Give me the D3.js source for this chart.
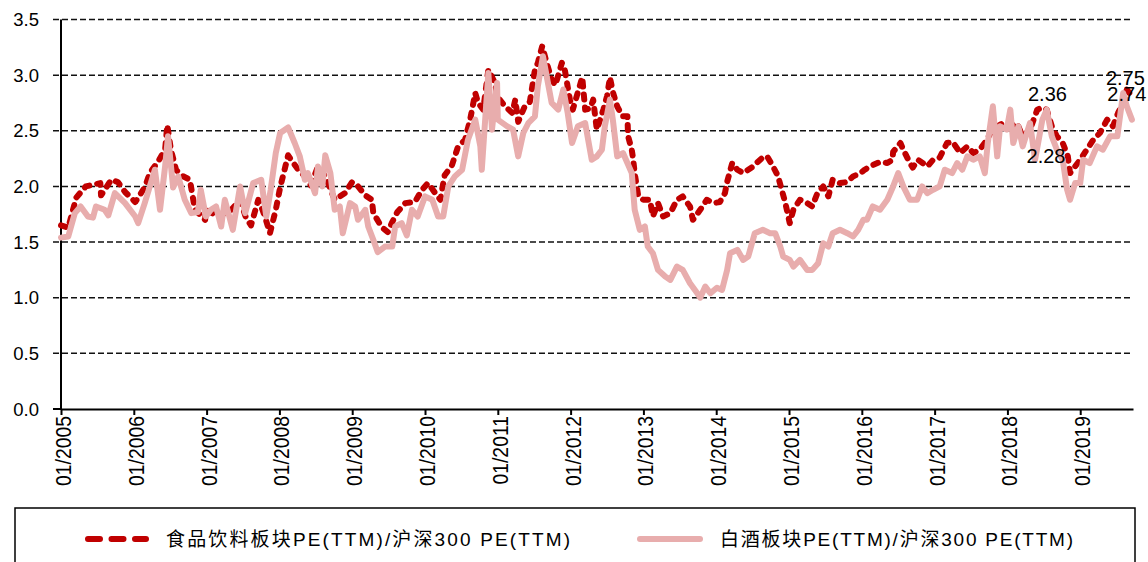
<!DOCTYPE html>
<html>
<head>
<meta charset="utf-8">
<script src="https://cdn.jsdelivr.net/npm/d3@7"></script>
<style>
  body { margin: 0; background: #fff; }
  text { font-family: "Liberation Sans", Arial, "Noto Sans CJK SC", sans-serif; fill: #000; }
</style>
</head>
<body>
<div id="chart"></div>
<script>
var width = 1148, height = 562;

// x values are decimal years
var foodT = [2005.00,2005.10,2005.21,2005.34,2005.54,2005.55,2005.69,2005.78,2005.88,2006.02,2006.15,2006.22,2006.33,2006.43,2006.46,2006.51,2006.58,2006.65,2006.77,2006.84,2006.98,2006.99,2007.16,2007.34,2007.46,2007.54,2007.61,2007.71,2007.75,2007.80,2007.87,2007.95,2008.01,2008.12,2008.16,2008.26,2008.35,2008.43,2008.53,2008.63,2008.76,2008.90,2009.00,2009.08,2009.18,2009.27,2009.29,2009.41,2009.49,2009.55,2009.62,2009.73,2009.86,2009.96,2010.04,2010.14,2010.21,2010.27,2010.37,2010.45,2010.55,2010.62,2010.69,2010.73,2010.80,2010.87,2010.96,2011.00,2011.10,2011.20,2011.24,2011.28,2011.37,2011.44,2011.51,2011.55,2011.61,2011.68,2011.74,2011.79,2011.88,2011.92,2011.99,2012.03,2012.16,2012.20,2012.27,2012.31,2012.36,2012.45,2012.50,2012.54,2012.58,2012.64,2012.71,2012.78,2012.79,2012.84,2012.86,2012.88,2012.93,2013.00,2013.09,2013.13,2013.20,2013.27,2013.37,2013.46,2013.54,2013.64,2013.68,2013.78,2013.87,2013.96,2014.05,2014.12,2014.15,2014.22,2014.29,2014.37,2014.44,2014.51,2014.57,2014.64,2014.70,2014.78,2014.85,2014.90,2014.95,2015.01,2015.06,2015.15,2015.25,2015.32,2015.39,2015.47,2015.54,2015.60,2015.70,2015.80,2015.88,2015.98,2016.04,2016.11,2016.25,2016.35,2016.42,2016.43,2016.53,2016.57,2016.66,2016.70,2016.77,2016.90,2016.98,2017.07,2017.17,2017.25,2017.35,2017.45,2017.53,2017.62,2017.72,2017.79,2017.86,2017.94,2018.04,2018.13,2018.21,2018.31,2018.41,2018.48,2018.54,2018.61,2018.68,2018.76,2018.83,2018.86,2018.93,2019.00,2019.09,2019.18,2019.27,2019.37,2019.45,2019.52,2019.59,2019.64,2019.71];
var foodV = [1.65,1.63,1.90,2.00,2.03,1.92,2.06,2.04,1.95,1.86,1.99,2.12,2.22,2.33,2.55,2.33,2.15,2.10,2.06,1.79,1.70,1.79,1.73,1.79,1.88,1.72,1.65,1.88,1.82,1.73,1.58,1.79,1.99,2.28,2.24,2.15,2.09,2.01,2.18,2.09,1.88,1.94,2.04,2.00,1.92,1.88,1.76,1.63,1.59,1.68,1.77,1.85,1.86,1.97,2.03,1.94,1.88,2.10,2.19,2.35,2.42,2.60,2.84,2.75,2.69,3.05,2.93,2.80,2.72,2.66,2.78,2.58,2.72,2.76,3.05,3.11,3.26,3.09,2.96,2.91,3.11,3.05,2.78,2.69,2.98,2.69,2.70,2.78,2.51,2.69,2.81,2.98,2.85,2.72,2.63,2.63,2.45,2.33,2.24,2.12,1.91,1.88,1.88,1.73,1.85,1.73,1.76,1.88,1.91,1.82,1.70,1.79,1.88,1.85,1.86,1.94,2.04,2.21,2.15,2.12,2.15,2.18,2.22,2.26,2.27,2.18,2.09,1.97,1.85,1.67,1.79,1.88,1.85,1.82,1.94,2.00,1.91,2.06,2.03,2.04,2.09,2.12,2.15,2.18,2.22,2.21,2.24,2.31,2.39,2.33,2.21,2.17,2.24,2.18,2.24,2.26,2.39,2.40,2.30,2.36,2.30,2.33,2.42,2.51,2.54,2.57,2.54,2.57,2.45,2.51,2.69,2.71,2.69,2.54,2.45,2.39,2.27,2.12,2.18,2.24,2.33,2.42,2.48,2.60,2.54,2.66,2.75,2.87,2.81];

var liquorT = [2005.00,2005.10,2005.19,2005.27,2005.37,2005.44,2005.48,2005.60,2005.65,2005.74,2005.88,2006.02,2006.06,2006.15,2006.29,2006.36,2006.43,2006.47,2006.54,2006.61,2006.70,2006.79,2006.88,2006.92,2006.99,2007.06,2007.13,2007.20,2007.25,2007.36,2007.46,2007.53,2007.64,2007.75,2007.82,2007.88,2007.95,2008.01,2008.12,2008.21,2008.28,2008.35,2008.39,2008.49,2008.53,2008.59,2008.63,2008.70,2008.76,2008.83,2008.87,2008.97,2009.04,2009.08,2009.18,2009.22,2009.29,2009.35,2009.45,2009.55,2009.59,2009.68,2009.75,2009.82,2009.90,2010.00,2010.10,2010.18,2010.25,2010.32,2010.41,2010.51,2010.59,2010.69,2010.76,2010.78,2010.87,2010.92,2010.99,2011.00,2011.13,2011.21,2011.28,2011.35,2011.42,2011.51,2011.55,2011.62,2011.68,2011.74,2011.83,2011.90,2011.96,2012.02,2012.10,2012.20,2012.29,2012.36,2012.43,2012.47,2012.54,2012.58,2012.64,2012.72,2012.78,2012.84,2012.88,2012.95,2013.02,2013.06,2013.13,2013.20,2013.30,2013.37,2013.46,2013.54,2013.64,2013.74,2013.78,2013.85,2013.92,2014.01,2014.08,2014.15,2014.19,2014.29,2014.37,2014.44,2014.53,2014.64,2014.74,2014.81,2014.88,2014.92,2015.01,2015.06,2015.15,2015.25,2015.32,2015.40,2015.47,2015.54,2015.60,2015.70,2015.80,2015.88,2015.95,2016.02,2016.07,2016.15,2016.25,2016.35,2016.43,2016.50,2016.57,2016.66,2016.76,2016.83,2016.90,2016.98,2017.07,2017.14,2017.24,2017.31,2017.38,2017.45,2017.53,2017.62,2017.69,2017.73,2017.80,2017.86,2017.90,2017.99,2018.04,2018.08,2018.15,2018.21,2018.31,2018.38,2018.48,2018.54,2018.61,2018.68,2018.76,2018.82,2018.86,2018.93,2019.00,2019.04,2019.13,2019.23,2019.31,2019.41,2019.51,2019.59,2019.64,2019.71];
var liquorV = [1.54,1.55,1.76,1.82,1.73,1.72,1.82,1.79,1.74,1.94,1.85,1.73,1.67,1.85,2.15,1.79,2.18,2.45,1.99,2.09,1.88,1.76,1.77,1.97,1.73,1.79,1.82,1.64,1.88,1.61,2.00,1.76,2.03,2.06,1.73,1.97,2.30,2.48,2.53,2.39,2.27,2.06,2.12,1.94,2.18,2.00,2.28,2.12,1.79,1.82,1.58,1.85,1.82,1.70,1.79,1.64,1.52,1.41,1.46,1.46,1.64,1.67,1.56,1.79,1.73,1.91,1.88,1.73,1.73,2.00,2.09,2.15,2.42,2.60,2.36,2.15,3.02,2.51,2.93,2.60,2.54,2.51,2.27,2.48,2.57,2.63,2.90,3.17,2.96,2.75,2.69,2.87,2.66,2.39,2.54,2.57,2.24,2.27,2.33,2.54,2.78,2.60,2.27,2.30,2.21,2.12,1.79,1.61,1.64,1.46,1.40,1.25,1.19,1.16,1.28,1.25,1.13,1.04,1.00,1.10,1.04,1.09,1.07,1.25,1.40,1.43,1.34,1.37,1.58,1.61,1.58,1.58,1.46,1.37,1.34,1.28,1.34,1.25,1.25,1.31,1.49,1.46,1.58,1.61,1.58,1.55,1.61,1.70,1.70,1.82,1.79,1.88,2.00,2.12,2.00,1.88,1.88,2.00,1.94,1.97,2.00,2.15,2.12,2.21,2.15,2.27,2.24,2.27,2.12,2.39,2.72,2.27,2.54,2.51,2.69,2.39,2.54,2.36,2.57,2.24,2.60,2.69,2.45,2.33,2.24,1.97,1.88,2.03,2.03,2.24,2.21,2.36,2.33,2.45,2.45,2.84,2.72,2.60];

var yearTicks = [2005,2006,2007,2008,2009,2010,2011,2012,2013,2014,2015,2016,2017,2018,2019];
var yTicks = [0, 0.5, 1.0, 1.5, 2.0, 2.5, 3.0, 3.5];

var seriesNames = ["食品饮料板块PE(TTM)/沪深300 PE(TTM)", "白酒板块PE(TTM)/沪深300 PE(TTM)"];

var annoText = ["2.36", "2.28", "2.75", "2.74"];
var annoT = [2018.55, 2018.53, 2019.62, 2019.64];
var annoV = [2.77, 2.21, 2.91, 2.77];

var red = "#c00000", pink = "#e8adad";

var svg = d3.select("#chart").append("svg")
    .attr("width", width)
    .attr("height", height);

var x = d3.scaleLinear().domain([2005, 2019.725]).range([61, 1133]),
    y = d3.scaleLinear().domain([0, 3.5]).range([409, 19.5]);

// gridlines
svg.selectAll(".grid")
    .data(yTicks.filter(function(d) { return d > 0; }))
    .enter().append("line")
    .attr("x1", 53).attr("x2", 1133)
    .attr("y1", function(d) { return y(d); })
    .attr("y2", function(d) { return y(d); })
    .attr("stroke", "#111")
    .attr("stroke-width", 1.5)
    .attr("stroke-dasharray", "6,3");

svg.append("line")
    .attr("x1", 53).attr("x2", 61)
    .attr("y1", y(0)).attr("y2", y(0))
    .attr("stroke", "#000").attr("stroke-width", 2);

svg.selectAll(".ylab")
    .data(yTicks)
    .enter().append("text")
    .attr("x", 39)
    .attr("y", function(d) { return y(d); })
    .attr("dy", "0.36em")
    .attr("text-anchor", "end")
    .style("font-size", "18.5px")
    .text(function(d) { return d3.format(".1f")(d); });

// axes
var xAxis = d3.axisBottom(x).tickValues(yearTicks).tickSize(6).tickSizeOuter(0).tickFormat("");
var gx = svg.append("g").attr("transform", "translate(0," + y(0) + ")").call(xAxis);
gx.select(".domain").attr("stroke", "#000").attr("stroke-width", 2);
gx.selectAll(".tick line").attr("stroke", "#000").attr("stroke-width", 2);

svg.append("line")
    .attr("x1", 61).attr("x2", 61)
    .attr("y1", y(3.5)).attr("y2", y(0))
    .attr("stroke", "#000").attr("stroke-width", 2);

svg.selectAll(".xlab")
    .data(yearTicks)
    .enter().append("text")
    .attr("transform", function(d) { return "translate(" + (x(d) + 2) + ",416) rotate(-90) scale(0.88,1)"; })
    .attr("text-anchor", "end")
    .attr("dy", "0.36em")
    .style("font-size", "22px")
    .text(function(d) { return "01/" + d; });

// lines
var line = d3.line()
    .x(function(d) { return x(d[0]); })
    .y(function(d) { return y(d[1]); });

svg.append("path")
    .datum(d3.zip(foodT, foodV))
    .attr("d", line)
    .attr("fill", "none")
    .attr("stroke", red)
    .attr("stroke-width", 6)
    .attr("stroke-linecap", "round")
    .attr("stroke-linejoin", "round")
    .attr("stroke-dasharray", "5,8");

svg.append("path")
    .datum(d3.zip(liquorT, liquorV))
    .attr("d", line)
    .attr("fill", "none")
    .attr("stroke", pink)
    .attr("stroke-width", 6)
    .attr("stroke-linecap", "round")
    .attr("stroke-linejoin", "round");

// data labels
svg.selectAll(".anno")
    .data(annoText)
    .enter().append("text")
    .attr("x", function(d, i) { return x(annoT[i]); })
    .attr("y", function(d, i) { return y(annoV[i]); })
    .attr("text-anchor", "middle")
    .style("font-size", "20px")
    .text(function(d) { return d; });

// legend
svg.append("rect")
    .attr("x", 15).attr("y", 508)
    .attr("width", 1120).attr("height", 80)
    .attr("fill", "none")
    .attr("stroke", "#000")
    .attr("stroke-width", 1.5);

svg.append("line")
    .attr("x1", 88).attr("x2", 146)
    .attr("y1", 539).attr("y2", 539)
    .attr("stroke", red).attr("stroke-width", 6)
    .attr("stroke-linecap", "round")
    .attr("stroke-dasharray", "12,11.5");

svg.append("line")
    .attr("x1", 640).attr("x2", 700)
    .attr("y1", 539).attr("y2", 539)
    .attr("stroke", pink).attr("stroke-width", 6)
    .attr("stroke-linecap", "round");

svg.append("text")
    .attr("x", 166).attr("y", 539).attr("dy", "0.36em")
    .attr("textLength", 404).attr("lengthAdjust", "spacing")
    .style("font-size", "19px")
    .text(seriesNames[0]);

svg.append("text")
    .attr("x", 720).attr("y", 539).attr("dy", "0.36em")
    .attr("textLength", 353).attr("lengthAdjust", "spacing")
    .style("font-size", "19px")
    .text(seriesNames[1]);
</script>
</body>
</html>
